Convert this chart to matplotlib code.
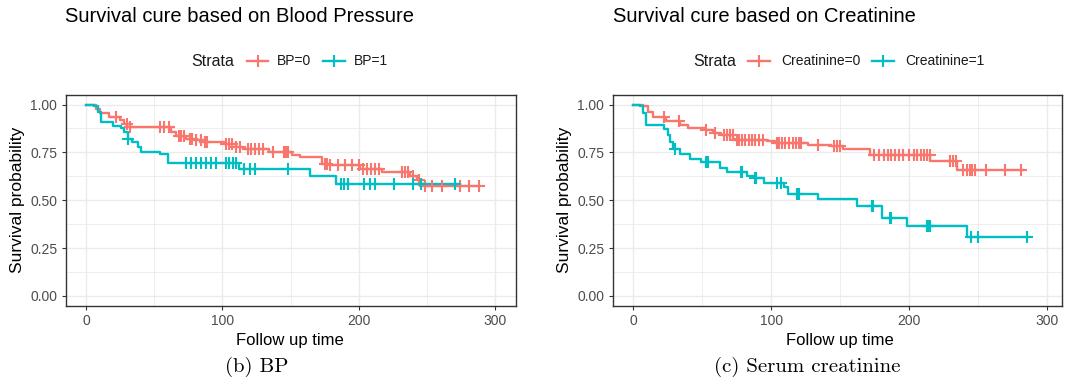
import numpy as np
import matplotlib
matplotlib.use('Agg')
import matplotlib.pyplot as plt
from matplotlib.lines import Line2D
from matplotlib.ticker import MultipleLocator, FormatStrFormatter

plt.rcParams['font.family'] = ['Liberation Sans', 'DejaVu Sans']

RED = '#F8766D'
TEAL = '#00BFC4'

# ---- Blood pressure curves (step times / survival after step) ----
bp0_t = [0, 7, 10, 17, 25, 28, 32, 62, 66, 73, 79, 86, 101, 110, 115, 134, 151, 157, 173, 179, 201, 217, 238, 243, 246, 248]
bp0_s = [1.0, 0.975, 0.955, 0.937, 0.918, 0.90, 0.882, 0.858, 0.838, 0.822, 0.813, 0.805, 0.795, 0.778, 0.768, 0.752,
         0.738, 0.724, 0.691, 0.683, 0.665, 0.647, 0.627, 0.604, 0.587, 0.572]
bp0_end = 288
bp0_cens = [22, 30, 32, 54, 57, 61, 68, 70, 72, 76, 78, 81, 84, 87, 89, 103, 105, 107, 110, 113, 119, 121, 124, 127, 130,
            137, 145, 147, 148, 175, 177, 179, 185, 190, 195, 200, 203, 206, 209, 212, 215, 232, 234, 236, 240, 244,
            249, 254, 261, 274, 281, 288]

bp1_t = [0, 6, 9, 11, 20, 26, 28, 30.5, 34, 38, 40, 54, 60, 112.5, 164, 183]
bp1_s = [1.0, 0.99, 0.96, 0.909, 0.89, 0.88, 0.855, 0.822, 0.805, 0.778, 0.752, 0.744, 0.696, 0.661, 0.627, 0.586]
bp1_end = 274
bp1_cens = [31, 73, 77, 81, 84, 88, 92, 95, 103, 105, 108, 110, 116, 120, 124, 148, 187, 189, 192, 204, 208, 212,
            226, 240, 246, 271]

# ---- Creatinine curves ----
cr0_t = [0, 7, 11, 14.5, 24, 34, 40, 53, 58, 64, 72.5, 74, 97, 103, 126.5, 143.5, 152, 172, 215.5, 235]
cr0_s = [1.0, 0.99, 0.96, 0.937, 0.914, 0.892, 0.878, 0.869, 0.852, 0.84, 0.822, 0.813, 0.808, 0.80, 0.79, 0.785,
         0.768, 0.735, 0.705, 0.656]
cr0_end = 283
cr0_cens = [22, 33, 53, 59, 66, 68, 70, 72, 75, 77, 79, 81, 84, 86, 88, 91, 94, 104, 106, 108, 110, 113, 116, 118, 120,
            122, 134, 146, 148, 150, 175, 178, 182, 185, 187, 190, 193, 196, 200, 204, 206, 209, 211, 213, 215, 230,
            232, 234, 239, 242, 244, 246, 248, 256, 270, 281]

cr1_t = [0, 5, 7, 9, 22.5, 25.5, 27, 29, 34, 41, 49.5, 63, 68, 82.5, 88, 95, 109.5, 112, 134, 162, 180.5, 198.5, 242]
cr1_s = [1.0, 0.99, 0.955, 0.895, 0.874, 0.84, 0.806, 0.77, 0.743, 0.717, 0.70, 0.668, 0.647, 0.626, 0.615, 0.592,
         0.569, 0.534, 0.508, 0.468, 0.407, 0.368, 0.31]
cr1_end = 287
cr1_cens = [30, 53, 54, 78, 79, 88, 89, 104, 107, 119, 120, 173, 174, 186, 187, 213, 214, 215, 245, 250, 286]

W, H = 1065, 383
fig = plt.figure(figsize=(W / 100, H / 100), dpi=100)
fig.patch.set_facecolor('white')


def box(l, t, r, b):
    return [l / W, 1 - b / H, (r - l) / W, (b - t) / H]


def fx(x):
    return x / W


def fy(y):
    return 1 - y / H


def km(ax, t, s, end, cens, color):
    tt = list(t) + [end]
    ss = list(s) + [s[-1]]
    ax.step(tt, ss, where='post', color=color, lw=1.7, zorder=3)
    idx = np.searchsorted(t, cens, side='right') - 1
    cy = np.array(s)[idx]
    ax.plot(cens, cy, ls='none', marker='+', ms=8.5, mew=1.5, color=color, zorder=4)


def style(ax, xmax):
    ax.set_xlim(-15, xmax)
    ax.set_ylim(-0.05, 1.05)
    ax.xaxis.set_major_locator(MultipleLocator(100))
    ax.xaxis.set_minor_locator(MultipleLocator(50))
    ax.yaxis.set_major_locator(MultipleLocator(0.25))
    ax.yaxis.set_minor_locator(MultipleLocator(0.125))
    ax.yaxis.set_major_formatter(FormatStrFormatter('%.2f'))
    ax.grid(which='major', color='#EBEBEB', lw=1.0, zorder=0)
    ax.grid(which='minor', color='#EBEBEB', lw=0.6, zorder=0)
    ax.set_axisbelow(True)
    ax.tick_params(which='major', direction='out', length=3, width=0.8, color='#333333',
                   labelcolor='#4D4D4D', labelsize=10, pad=3)
    ax.tick_params(which='minor', length=0)
    for sp in ax.spines.values():
        sp.set_color('#333333')
        sp.set_linewidth(1.0)


ax1 = fig.add_axes(box(65.5, 95, 515.5, 305.5))
km(ax1, bp0_t, bp0_s, bp0_end, bp0_cens, RED)
km(ax1, bp1_t, bp1_s, bp1_end, bp1_cens, TEAL)
style(ax1, 315)

ax2 = fig.add_axes(box(612.6, 95, 1061.9, 305.5))
km(ax2, cr0_t, cr0_s, cr0_end, cr0_cens, RED)
km(ax2, cr1_t, cr1_s, cr1_end, cr1_cens, TEAL)
style(ax2, 311)

# titles
fig.text(fx(65), fy(17), 'Survival cure based on Blood Pressure', fontsize=14.5, ha='left', va='center')
fig.text(fx(613), fy(17), 'Survival cure based on Creatinine', fontsize=14.5, ha='left', va='center')


# legends
def legend(x_strata, items):
    fig.text(fx(x_strata), fy(61), 'Strata', fontsize=11.5, ha='left', va='center', color='#1A1A1A')
    for (k0, k1, lx, lab, col) in items:
        fig.add_artist(Line2D([fx(k0), fx(k1)], [fy(61), fy(61)], color=col, lw=1.7,
                              transform=fig.transFigure))
        fig.add_artist(Line2D([fx((k0 + k1) / 2)], [fy(61)], marker='+', ms=8.5, mew=1.5, color=col,
                              transform=fig.transFigure))
        fig.text(fx(lx), fy(61), lab, fontsize=10, ha='left', va='center', color='#1A1A1A')


legend(191, [(247, 268, 277, 'BP=0', RED), (323, 345, 354, 'BP=1', TEAL)])
legend(693, [(748, 770, 781, 'Creatinine=0', RED), (872, 894, 905, 'Creatinine=1', TEAL)])

# axis labels
fig.text(fx(18), fy(200), 'Survival probability', rotation=90, fontsize=12.5, ha='center', va='center')
fig.text(fx(565), fy(200), 'Survival probability', rotation=90, fontsize=12.5, ha='center', va='center')
fig.text(fx(290), fy(340), 'Follow up time', fontsize=12, ha='center', va='center')
fig.text(fx(840), fy(340), 'Follow up time', fontsize=12, ha='center', va='center')

# sub-captions
fig.text(fx(257), fy(367), '(b) BP', fontsize=15, family='cmr10', ha='center', va='center')
fig.text(fx(807), fy(367), '(c) Serum creatinine', fontsize=15, family='cmr10', ha='center', va='center')

fig.savefig('out.png', dpi=100, facecolor='white')
